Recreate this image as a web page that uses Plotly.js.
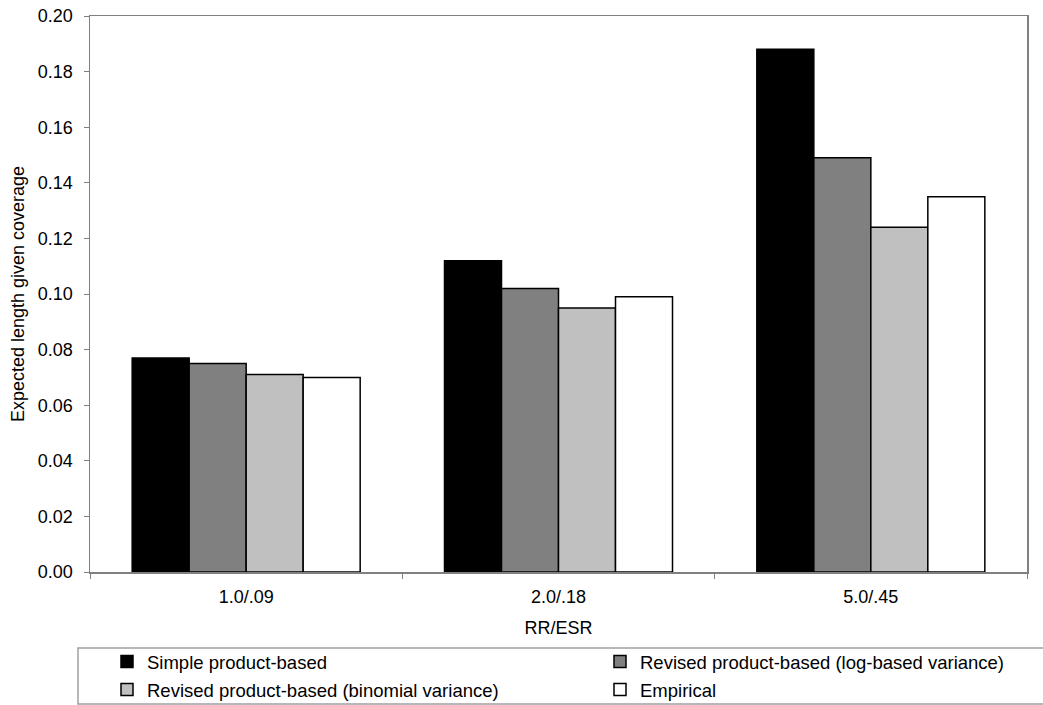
<!DOCTYPE html>
<html>
<head>
<meta charset="utf-8">
<script src="https://cdn.plot.ly/plotly-3.0.1.min.js"></script>
<style>html,body{margin:0;padding:0;background:#fff;}#chart{width:1043px;height:705px;}</style>
</head>
<body>
<div id="chart"></div>
<script>
const categories = ["1.0/.09", "2.0/.18", "5.0/.45"];
const seriesNames = [
  "Simple product-based",
  "Revised product-based (log-based variance)",
  "Revised product-based (binomial variance)",
  "Empirical"
];
const simpleProduct = [0.077, 0.112, 0.188];
const revisedLog = [0.075, 0.102, 0.149];
const revisedBinomial = [0.071, 0.095, 0.124];
const empirical = [0.070, 0.099, 0.135];
const seriesColors = ["#000000", "#808080", "#c0c0c0", "#ffffff"];
const yTickVals = [0, 0.02, 0.04, 0.06, 0.08, 0.10, 0.12, 0.14, 0.16, 0.18, 0.20];

const values = [simpleProduct, revisedLog, revisedBinomial, empirical];
const legendIds = ["legend", "legend2", "legend3", "legend4"];
const traces = values.map((v, i) => ({
  type: "bar",
  name: seriesNames[i],
  x: categories,
  y: v,
  marker: {color: seriesColors[i], line: {color: "#000000", width: 1.5}},
  legend: legendIds[i],
  hoverinfo: "skip"
}));

const W = 1043, H = 705, L = 90, R = 16, T = 16, B = 133;
const pw = W - L - R, ph = H - T - B;
const px = x => (x - L) / pw;
const py = y => (H - B - y) / ph;
const font = {family: "Liberation Sans, Arial, sans-serif", size: 18, color: "#000"};
const legendFont = {family: "Liberation Sans, Arial, sans-serif", size: 18.5, color: "#000"};

function legendAt(x, y) {
  return {
    orientation: "h",
    x: px(x), y: py(y),
    xanchor: "left",
    yanchor: "middle",
    bgcolor: "rgba(0,0,0,0)",
    borderwidth: 0,
    font: legendFont,
    itemclick: false,
    itemdoubleclick: false
  };
}

const layout = {
  width: W, height: H,
  margin: {l: L, r: R, t: T, b: B, pad: 0, autoexpand: false},
  paper_bgcolor: "#fff",
  plot_bgcolor: "#fff",
  font: font,
  barmode: "group",
  bargap: 0.27,
  bargroupgap: 0,
  showlegend: true,
  legend: legendAt(107, 662),
  legend2: legendAt(600, 662),
  legend3: legendAt(107, 690),
  legend4: legendAt(600, 690),
  xaxis: {
    type: "category",
    showline: true, linecolor: "#808080", linewidth: 1.5, mirror: true,
    ticks: "outside", tickson: "boundaries", ticklen: 5, tickcolor: "#808080", tickwidth: 1,
    ticklabelstandoff: 8,
    showgrid: false, zeroline: false,
    tickfont: font,
    title: {text: "RR/ESR", font: font, standoff: 15}
  },
  yaxis: {
    range: [0, 0.2],
    tickvals: yTickVals,
    tickformat: ".2f",
    showline: true, linecolor: "#808080", linewidth: 1.5, mirror: true,
    ticks: "outside", ticklen: 5, tickcolor: "#808080", tickwidth: 1,
    ticklabelstandoff: 7,
    showgrid: false, zeroline: false,
    tickfont: font,
    title: {text: "Expected length given coverage", font: font, standoff: 8}
  },
  shapes: [{
    type: "rect", xref: "paper", yref: "paper",
    x0: px(78), x1: px(1050), y0: py(648), y1: py(704),
    line: {color: "#a0a0a0", width: 1.5}, fillcolor: "rgba(0,0,0,0)"
  }]
};

Plotly.newPlot("chart", traces, layout, {displayModeBar: false, staticPlot: true});
</script>
</body>
</html>
